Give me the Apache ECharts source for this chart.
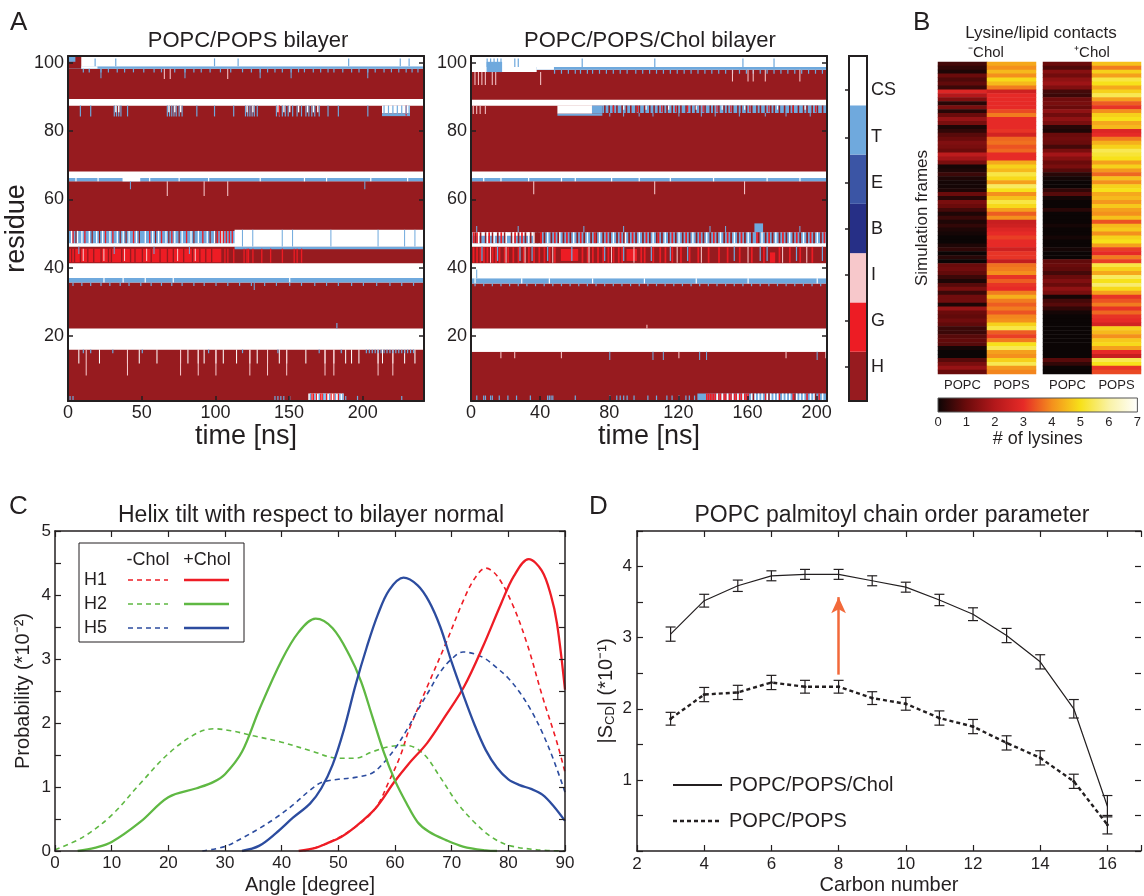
<!DOCTYPE html>
<html>
<head>
<meta charset="utf-8">
<script src="https://cdn.jsdelivr.net/npm/echarts@6/dist/echarts.min.js"></script>
<style>
html,body{margin:0;padding:0;background:#ffffff;}
#main{width:1144px;height:896px;}
</style>
</head>
<body>
<div id="main"></div>
<script>
// ================= Panel A : secondary structure vs time =================
const stateNames = ['H', 'G', 'I', 'B', 'E', 'T', 'CS'];
const stateLabelPos = [0.69, 1.62, 2.56, 3.49, 4.42, 5.35, 6.31];
const H = 0, G = 1, I = 2, BR = 3, EX = 4, T = 5, CS = 6;
const timeTicksL = [0, 50, 100, 150, 200];
const timeTicksR = [0, 40, 80, 120, 160, 200];
const residueTicks = [20, 40, 60, 80, 100];
const tMaxL = 241.5, tMaxR = 206;
const resMin = 1, resMax = 102;

// full-width bands: [res0, res1, state]
const bandsL = [[0,16.1,H],[16.1,22.2,CS],[22.2,35.7,H],[35.7,37.0,T],[37.0,41.3,CS],[41.3,46.2,H],[46.2,47.2,CS],[47.2,50.8,T],[50.8,65.3,H],[65.3,66.3,T],[66.3,68.2,CS],[68.2,87.5,H],[87.5,89.4,CS],[89.4,98.3,H],[98.3,99.0,T],[99.0,102,CS]];
// blocks: [t0, t1, res0, res1, state]
const blocksL = [[0,9,98.3,102,H],[0,5,100.3,102,T],[9,20,98.3,99.0,CS],[113,241.5,45.4,46.2,T],[113,241.5,46.2,51.1,CS],[1,104,41.6,45.6,G],[37,49,65.3,66.3,CS],[163,187,1,3.2,CS],[213,232,85.2,87.5,CS],[213,232,84.4,85.2,T]];
// flicker groups: [res0, res1, state, duration, times]
const flicksL = [
  [99.0,101.3,T,0.8,[18,32,99,115,190,225,231]],
  [97.2,98.3,T,0.8,[10,14,22,27,33,38,44,51,58,63,72,79,85,90,96,103,110,118,124,130,135,140,145,151,156,160,166,171,176,180,186,192,197,203,208,214,219,224,229,233,237]],
  [95.5,98.3,T,0.7,[22,79,130,151,203]],
  [95.3,98.3,I,0.7,[65,69,108]],
  [84.3,87.5,T,0.8,[8,15,31,32.5,34,35.5,40,67,68.5,70,71.5,73,75,77,87,99,112,120,121.5,123,124.5,126,128,141,143,145,147,149,152,155,158,161,163,165,167,170,176,183,203]],
  [85.5,87.5,CS,0.9,[32,34,68,72,76,121,125,142,146,150,156,162,166,169]],
  [84.5,87.5,G,0.8,[143,229]],
  [85.0,87.5,T,0.8,[214,217,220,223,226,229,231]],
  [65.3,66.3,CS,0.8,[5,20,55,75,95,130,160,175,205,230]],
  [61,65.3,I,0.7,[67,92,108]],
  [63,65.3,T,0.7,[42,201]],
  [47.2,50.8,CS,0.9,[2,6,9,14,19,23,28,33,37,41,46,52,57,61,66,72,77,83,88,94,99,104]],
  [47.2,50.8,G,0.9,[3,11,25,30,44,55,63,70,80,91,101,103,105,107,109,111]],
  [47.2,50.8,H,0.8,[5,16,21,35,39,48,59,68,75,85,96,100]],
  [46.2,51.1,T,0.6,[118,125,145,152,178,210,228,235]],
  [41.6,45.6,H,0.9,[2,4,8,13,17,22,27,29,36,42,45,50,56,62,67,71,78,84,89,93,97]],
  [42,45.6,I,0.7,[10,24,38,53,74,86]],
  [44,46.2,T,0.7,[7,31,58,82]],
  [41.5,45.6,G,0.9,[106,108,112,119,121,122,125,131,137,145,153,155,158]],
  [35.7,37.0,CS,0.8,[24,37,52,71,150]],
  [34.7,35.7,T,0.8,[3,9,15,22,28,35,41,49,56,63,70,77,85,92,100,108,116,124,133,141,150,158,167,175,183,192,200,209,218,226,234]],
  [33.5,35.7,T,0.7,[126]],
  [22.2,23.8,T,0.8,[182]],
  [12,16.1,CS,0.7,[7,21,40,48,60,76,81,88,92,100,105,114,123,128,135,143,148,161,174,180,188,192,197,210,213,220,228,235]],
  [8.5,16.1,I,0.7,[12,40,76,88,100,123,135,148,174,180,210,220]],
  [15,16.1,T,0.8,[10,15,30,50,95,118,142,170,185,202,204,206,208,210,212,214,216,218,220,222,224,226,228,230,232,234]],
  [1,2.5,T,0.8,[1,3,140,142,144,146,150,188,196,226]],
  [1,3.2,G,0.9,[165,166,168,171,172,175,178,180,183]],
  [1,3.2,T,0.9,[164,167,170,173,174,177,181,184,186]]
];

const bandsR = [[0,15.4,H],[15.4,22.2,CS],[22.2,35.4,H],[35.4,36.9,T],[36.9,41.3,CS],[41.3,46.2,H],[46.2,47.2,CS],[47.2,50.4,T],[50.4,65.3,H],[65.3,66.3,T],[66.3,68.2,CS],[68.2,87.5,H],[87.5,89.2,CS],[89.2,98.0,H],[98.0,98.8,T],[98.8,102,CS]];
const blocksR = [[0,38,97.3,98.8,CS],[38,48,98.0,98.8,CS],[9,18,97.3,100.3,T],[50,70,85.1,87.5,CS],[50,76,84.5,85.1,T],[70,76,85.1,87.5,T],[76,206,85.3,87.5,T],[1,36,49.4,50.4,CS],[36,41,47.2,50.4,H],[164,169,50.4,53,T],[52,62,42,45.5,G],[90,96,42,45.5,G],[173,176,41.5,44.5,G],[131,206,1,3.2,T]];
const flicksR = [
  [98.8,101.3,T,0.7,[9,11,13,15,17,25,27,64,106,157,175]],
  [96.8,98.0,T,0.7,[48,52,56,60,63,67,70,74,78,82,86,90,95,99,103,107,111,115,119,123,127,131,135,139,143,147,151,155,159,163,167,171,175,179,183,187,191,195,199,203]],
  [93.5,97.3,I,0.6,[2,4,6,8,12,14,40]],
  [94.5,98.0,I,0.6,[151,160,163,170,190]],
  [85.3,87.5,H,0.9,[77,79.5,82,84,87,89.5,92,95,97,100,103,105.5,108,111,113,116,119,121,124,127,129.5,132,135,138,140,143,146,148,151,154,156,159,162,165,167,170,173,175,178,181,184,186,189,192,194,197,200,203]],
  [85.5,87.5,G,0.7,[82,96,110,118,125,134,142,150,161,172,186,199]],
  [86.3,87.5,CS,0.7,[88,101,114,130,145,158,177,193]],
  [84.3,85.3,T,0.6,[80,88,97,105,120,133,141,155,170,182,196]],
  [85,87.5,I,0.6,[1,3,5,8]],
  [65.3,66.3,CS,0.7,[7,17,33,52,60,81,97,115,140,171,190]],
  [61.5,65.3,I,0.6,[36,106,158]],
  [47.2,50.4,H,1.0,[2,5,8,12,15,19,23,27,31,34,38,42,46,50,53,57,61,65,69,72,76,80,84,88,91,95,99,103,107,110,114,118,122,126,130,134,138,142,146,150,154,158,162,166,170,174,178,182,186,190,194,198,202]],
  [47.2,50.4,G,1.0,[1,3,10,17,25,29,40,48,55,63,71,78,86,93,101,108,116,124,132,140,148,156,165,172,180,188,196,204]],
  [47.2,50.4,CS,0.8,[4,9,13,20,24,33,36,44,51,59,67,74,82,89,97,105,112,120,128,136,144,152,160,168,176,184,192,200]],
  [50.4,52.2,T,0.6,[3,27,65,88,138,147,190]],
  [41.5,46.0,G,1.0,[1,3,5,7,9,12,14,16,19,21,24,27,30,33,36,39,42,45,48,64,67,70,73,76,79,82,85,87,98,100,105,109,112,116,121,126,131,137,143,148,155,162,169,178,184,190,197]],
  [42,46.2,T,0.7,[6,15,28,35,44,58,77,88,104,115,125,152,167,171,188,203]],
  [41.5,46.2,I,0.6,[11,20,31,47,68,81,94,119,133,160,180,194]],
  [35.4,36.9,CS,0.7,[2,29,45,70,100,130,160,200]],
  [34.6,35.4,T,0.7,[2,7,12,17,22,27,32,37,42,47,52,57,62,67,72,77,82,87,92,97,102,107,112,117,122,127,132,137,142,147,152,157,162,167,172,177,182,187,192,197,202]],
  [36.9,39.5,T,0.6,[3]],
  [13,15.4,T,0.6,[80,105,111,132,136,200]],
  [13.5,15.4,I,0.6,[17,25,52,120,182,205]],
  [22.2,23.3,I,0.6,[101.5]],
  [1,2.6,T,0.7,[3,7,8,11,12,16,21,26,34,44,45,46,47,60,80,84,86,88,90,94,102,107,113,116,120,124,126,129]],
  [1,3.2,G,0.9,[136,137,138,139,140,141,143,144,146,147,149,150,152,153,155,156,158,159,160,170,178,186,194,201]],
  [1,3.2,CS,0.9,[142,145,148,151,154,157,162,164,166,168,171,173,175,177,180,182,184,188,190,192,196,198,203]],
  [1,3.2,H,0.8,[163,172,187,199]]
];

// ================= Panel B : lysine / lipid contacts =================
const lipidCats = ['POPC', 'POPS'];
const lysNoCholPOPC = [0.6,0.4,0.2,1.0,0.7,0.9,0.5,2.8,2.0,1.3,0.3,1.2,0.3,1.0,1.6,1.2,0.2,0.4,0.8,1.0,1.3,1.2,1.0,2.2,1.8,1.2,0.1,0.2,0.5,0.2,0.1,0.1,0.2,1.0,0.3,1.2,1.0,0.6,0.2,0.5,
  0.2,0.4,0.2,0.1,0.0,0.0,0.2,0.4,0.0,0.3,0.0,1.0,1.1,0.9,0.5,0.2,0.8,1.2,0.5,1.1,1.1,0.2,1.6,1.0,0.9,1.1,0.9,0.5,0.5,0.8,0.9,0.8,0.1,0.0,0.0,0.8,1.2,1.6,1.0];
const lysNoCholPOPS = [4.3,4.0,4.5,4.0,4.9,4.5,3.8,2.5,3.0,3.0,3.0,3.0,3.3,3.8,3.0,3.0,3.0,3.1,2.6,3.6,3.7,3.4,3.6,3.0,3.0,4.3,4.8,4.5,5.3,4.9,4.2,5.5,5.0,4.0,4.6,5.3,4.9,4.2,3.5,4.0,
  2.4,2.5,2.8,3.0,3.2,3.0,3.0,2.5,3.1,3.1,2.3,3.7,3.8,4.0,3.1,3.5,3.1,3.0,3.8,4.4,3.8,3.5,3.8,3.4,3.9,4.0,4.8,5.3,3.5,3.2,3.8,5.0,5.4,4.2,4.0,4.8,5.4,4.1,3.9];
const lysCholPOPC = [1.0,0.7,1.4,1.1,1.5,1.7,1.3,0.6,0.5,1.1,1.2,1.0,1.5,1.1,1.5,1.2,0.3,0.2,1.0,1.1,1.0,0.6,1.2,1.8,1.4,1.0,1.2,0.8,0.3,0.1,0.0,0.0,0.4,0.8,0.1,0.0,0.0,0.3,0.0,0.0,
  0.0,0.1,0.0,0.0,0.1,0.0,0.0,0.1,0.0,0.0,0.9,1.0,0.9,0.6,1.0,1.3,1.0,1.5,1.2,0.1,0.6,0.8,0.4,0.1,0.0,0.0,0.0,0.0,0.0,0.0,0.0,0.0,0.0,0.0,0.0,0.8,0.4,0.0,0.0];
const lysCholPOPS = [4.6,3.8,4.8,4.2,5.3,5.0,4.3,4.8,5.4,4.2,3.5,3.1,4.0,4.8,5.0,4.3,4.5,2.8,3.0,3.8,4.4,4.8,5.4,5.2,5.0,4.2,4.8,4.1,3.6,4.6,4.0,4.8,5.0,4.3,4.5,4.1,4.7,4.2,4.0,4.6,
  3.4,4.5,4.7,4.0,4.8,5.0,4.2,3.2,3.0,3.8,3.2,5.3,4.8,4.3,5.5,5.0,5.6,4.9,4.2,3.1,3.4,3.8,3.1,3.6,3.1,3.0,2.6,4.8,4.5,4.0,4.7,4.9,4.2,3.0,2.4,5.4,5.0,3.1,3.3];
const lysMin = 0, lysMax = 7;

// ================= Panel C : helix tilt =================
const h1NoChol = [[44,0],[48,0.12],[52.6,0.35],[56.5,0.66],[59,1.1],[61,1.5],[62.5,1.9],[65.7,2.57],[69,3.25],[72,3.9],[74,4.25],[76,4.42],[78,4.3],[80.7,3.86],[83.3,3.24],[86,2.42],[88.6,1.69],[90,1.23]];
const h1Chol = [[43,0],[46,0.05],[48,0.12],[50.5,0.22],[52.6,0.35],[56.5,0.66],[59.8,1.07],[62.4,1.36],[65.7,1.69],[68.9,2.11],[72.2,2.57],[75.5,3.19],[78.7,3.86],[81,4.3],[83.6,4.56],[85.9,4.38],[87.5,4.0],[88.6,3.55],[90,2.52]];
const h2NoChol = [[0,0.02],[5,0.22],[10,0.56],[15,1.05],[20,1.52],[25,1.84],[28,1.91],[31,1.88],[35,1.8],[40,1.7],[45,1.57],[50,1.45],[53,1.45],[56,1.55],[59,1.63],[62,1.65],[65,1.52],[68,1.15],[71,0.75],[74,0.45],[77,0.22],[80,0.09],[85,0.02],[90,0]];
const h2Chol = [[4,0],[7,0.05],[10,0.14],[15,0.45],[20,0.84],[25,0.98],[28,1.08],[30,1.2],[33,1.55],[36,2.2],[40,2.98],[43,3.42],[46,3.63],[49,3.48],[52,3.05],[54,2.65],[56,2.1],[58,1.55],[60,1.1],[62,0.75],[64,0.45],[66,0.3],[69,0.17],[72,0.07],[76,0.01],[78,0]];
const h5NoChol = [[26,0],[30,0.07],[33,0.2],[36,0.35],[39,0.52],[42,0.72],[45,0.95],[47,1.07],[50,1.12],[53,1.15],[56,1.22],[58,1.38],[60,1.6],[62,1.88],[64,2.2],[66,2.5],[68,2.8],[70,3.0],[72,3.11],[74,3.08],[76,3.0],[78,2.86],[80,2.7],[82,2.48],[84,2.2],[86,1.85],[88,1.42],[90,0.92]];
const h5Chol = [[33,0],[36,0.08],[39,0.28],[42,0.52],[45,0.74],[47,0.98],[49,1.35],[51,1.9],[53,2.58],[55,3.18],[57,3.7],[59,4.08],[61.5,4.27],[64,4.15],[66,3.9],[68,3.5],[70,2.95],[72,2.45],[74,1.98],[76,1.58],[78,1.3],[80,1.12],[82,1.03],[84,0.97],[86,0.88],[88,0.7],[90,0.47]];

// ================= Panel D : order parameter =================
const carbons = [3,4,5,6,7,8,9,10,11,12,13,14,15,16];
const orderChol = [3.05,3.52,3.73,3.87,3.89,3.89,3.80,3.71,3.53,3.33,3.03,2.66,2.0,0.63];
const errChol = [0.1,0.09,0.08,0.07,0.07,0.07,0.07,0.07,0.08,0.09,0.1,0.1,0.13,0.15];
const orderNoChol = [1.86,2.2,2.23,2.37,2.31,2.31,2.15,2.07,1.87,1.75,1.52,1.31,0.98,0.37];
const errNoChol = [0.09,0.1,0.1,0.1,0.09,0.09,0.09,0.09,0.1,0.1,0.1,0.1,0.1,0.13];
const arrowCarbon = 8, arrowFrom = 2.48, arrowTo = 3.57;

// ================= styles =================
const FONT = '"Liberation Sans", Arial, Helvetica, sans-serif';
const INK = '#231f20';
const stateColors = ['#971b1f', '#ed1c24', '#f7c8cb', '#262f86', '#3b55a5', '#6fa9dd', '#ffffff'];
const hotColors = ['#0b0505', '#6a0b0b', '#b3181b', '#e62a27', '#f4901d', '#f7e11a', '#f9f2a6', '#ffffff'];
const cRed = '#ee1c25', cGreen = '#5fb843', cBlue = '#2c4c9f';

function buildCells(bands, blocks, flicks, tMax) {
  const out = [];
  bands.forEach(b => out.push([0, tMax, b[0], b[1], b[2]]));
  blocks.forEach(b => out.push(b.slice()));
  flicks.forEach(f => f[4].forEach(t => out.push([t, t + f[3], f[0], f[1], f[2]])));
  return out;
}
function renderCell(params, api) {
  const p0 = api.coord([api.value(0), api.value(3)]);
  const p1 = api.coord([api.value(1), api.value(2)]);
  const w = Math.max(1, p1[0] - p0[0]);
  const cs = params.coordSys;
  const r = echarts.graphic.clipRectByRect({x: p0[0], y: p0[1], width: w, height: p1[1] - p0[1]},
    {x: cs.x, y: cs.y, width: cs.width, height: cs.height});
  if (!r) return null;
  return {type: 'rect', shape: r, style: {fill: stateColors[api.value(4)]}};
}
function renderState(params, api) {
  const s = api.value(0);
  const p0 = api.coord([0, s + 1]), p1 = api.coord([1, s]);
  return {type: 'rect', shape: {x: p0[0], y: p0[1], width: p1[0] - p0[0], height: p1[1] - p0[1]}, style: {fill: stateColors[s]}};
}
function renderErr(params, api) {
  const x = api.value(0);
  const pl = api.coord([x, api.value(1)]), ph = api.coord([x, api.value(2)]);
  const cw = 5, st = {stroke: INK, lineWidth: 1.2};
  return {type: 'group', children: [
    {type: 'line', shape: {x1: pl[0], y1: pl[1], x2: ph[0], y2: ph[1]}, style: st},
    {type: 'line', shape: {x1: pl[0] - cw, y1: pl[1], x2: pl[0] + cw, y2: pl[1]}, style: st},
    {type: 'line', shape: {x1: ph[0] - cw, y1: ph[1], x2: ph[0] + cw, y2: ph[1]}, style: st}
  ]};
}
function renderHotBar(params, api) {
  const p0 = api.coord([api.value(0), 1]), p1 = api.coord([api.value(1), 0]);
  return {type: 'rect', shape: {x: p0[0], y: p0[1], width: p1[0] - p0[0], height: p1[1] - p0[1]},
    style: {fill: new echarts.graphic.LinearGradient(0, 0, 1, 0, hotColors.map((c, i) => ({offset: i / (hotColors.length - 1), color: c}))),
      stroke: '#555', lineWidth: 1}};
}

const cellsL = buildCells(bandsL, blocksL, flicksL, tMaxL);
const cellsR = buildCells(bandsR, blocksR, flicksR, tMaxR);
const frames = lysNoCholPOPC.map((_, i) => String(i));
const heatNo = [], heatCh = [];
frames.forEach((_, i) => {
  heatNo.push([0, i, lysNoCholPOPC[i]]); heatNo.push([1, i, lysNoCholPOPS[i]]);
  heatCh.push([0, i, lysCholPOPC[i]]); heatCh.push([1, i, lysCholPOPS[i]]);
});
const errDataChol = carbons.map((c, i) => [c, orderChol[i] - errChol[i], orderChol[i] + errChol[i]]);
const errDataNo = carbons.map((c, i) => [c, orderNoChol[i] - errNoChol[i], orderNoChol[i] + errNoChol[i]]);

const lblStyle = (size, extra) => Object.assign({fontSize: size, color: INK, fontFamily: FONT}, extra || {});
const boxLine = (w) => ({show: true, onZero: false, lineStyle: {color: INK, width: w}});

function timeAxis(grid, tMax, ticks) {
  return [
    {gridIndex: grid, type: 'value', min: 0, max: tMax, position: 'bottom', z: 10,
     axisLine: boxLine(2), splitLine: {show: false},
     axisTick: {show: true, inside: true, length: 5, customValues: ticks.slice(1), lineStyle: {color: INK, width: 1.5}},
     axisLabel: Object.assign(lblStyle(18), {margin: 3, customValues: ticks}),
     name: 'time [ns]', nameLocation: 'middle', nameGap: 22, nameTextStyle: lblStyle(27)},
    {gridIndex: grid, type: 'value', min: 0, max: tMax, position: 'top', z: 10,
     axisLine: boxLine(2), axisTick: {show: false}, axisLabel: {show: false}, splitLine: {show: false}}
  ];
}
function resAxis(grid, withName) {
  const a = [
    {gridIndex: grid, type: 'value', min: resMin, max: resMax, position: 'left', z: 10,
     axisLine: boxLine(2), splitLine: {show: false},
     axisTick: {show: true, inside: true, length: 5, customValues: residueTicks, lineStyle: {color: INK, width: 1.5}},
     axisLabel: Object.assign(lblStyle(18), {margin: 4, customValues: residueTicks})},
    {gridIndex: grid, type: 'value', min: resMin, max: resMax, position: 'right', z: 10,
     axisLine: boxLine(2), splitLine: {show: false}, axisLabel: {show: false},
     axisTick: {show: true, inside: true, length: 5, customValues: residueTicks, lineStyle: {color: INK, width: 1.5}}}
  ];
  if (withName) Object.assign(a[0], {name: 'residue', nameLocation: 'middle', nameGap: 25, nameTextStyle: lblStyle(27)});
  return a;
}
const intOnly = (v) => (Math.abs(v - Math.round(v)) < 1e-6 ? String(Math.round(v)) : '');
const stateLabel = (v) => {
  let best = 0;
  stateLabelPos.forEach((p, i) => { if (Math.abs(p - v) < Math.abs(stateLabelPos[best] - v)) best = i; });
  return stateNames[best];
};

const xAxes = [
  ...timeAxis(0, tMaxL, timeTicksL),
  ...timeAxis(1, tMaxR, timeTicksR),
  {gridIndex: 2, type: 'value', min: 0, max: 1, show: false},
  {gridIndex: 3, type: 'category', data: lipidCats, axisLine: {show: false}, axisTick: {show: false},
   axisLabel: Object.assign(lblStyle(13), {margin: 5})},
  {gridIndex: 4, type: 'category', data: lipidCats, axisLine: {show: false}, axisTick: {show: false},
   axisLabel: Object.assign(lblStyle(13), {margin: 5})},
  {gridIndex: 5, type: 'value', min: lysMin, max: lysMax, interval: 1, axisLine: {show: false}, axisTick: {show: false},
   splitLine: {show: false}, axisLabel: Object.assign(lblStyle(13), {margin: 4}),
   name: '# of lysines', nameLocation: 'middle', nameGap: 15, nameTextStyle: lblStyle(18)},
  {gridIndex: 6, type: 'value', min: 0, max: 90, interval: 10, position: 'bottom', z: 10, axisLine: boxLine(1.5),
   splitLine: {show: false}, axisTick: {inside: true, length: 6, lineStyle: {color: INK, width: 1.2}},
   axisLabel: Object.assign(lblStyle(17), {margin: 4}),
   name: 'Angle [degree]', nameLocation: 'middle', nameGap: 24, nameTextStyle: lblStyle(20)},
  {gridIndex: 6, type: 'value', min: 0, max: 90, interval: 10, position: 'top', z: 10, axisLine: boxLine(1.5),
   splitLine: {show: false}, axisTick: {inside: true, length: 6, lineStyle: {color: INK, width: 1.2}}, axisLabel: {show: false}},
  {gridIndex: 7, type: 'value', min: 2, max: 17, interval: 2, position: 'bottom', z: 10, axisLine: boxLine(1.5),
   splitLine: {show: false}, axisTick: {inside: true, length: 6, lineStyle: {color: INK, width: 1.2}},
   axisLabel: Object.assign(lblStyle(17), {margin: 5, formatter: (v) => (v <= 16 ? String(v) : '')}),
   name: 'Carbon number', nameLocation: 'middle', nameGap: 24, nameTextStyle: lblStyle(20)},
  {gridIndex: 7, type: 'value', min: 2, max: 17, interval: 2, position: 'top', z: 10, axisLine: boxLine(1.5),
   splitLine: {show: false}, axisTick: {inside: true, length: 6, lineStyle: {color: INK, width: 1.2}}, axisLabel: {show: false}}
];
const yAxes = [
  ...resAxis(0, true),
  ...resAxis(1, false),
  {gridIndex: 2, type: 'value', min: 0, max: stateNames.length, position: 'right', z: 12,
   axisLine: {show: false}, splitLine: {show: false},
   axisTick: {show: true, inside: true, length: 4, customValues: stateLabelPos, lineStyle: {color: INK, width: 1.5}},
   axisLabel: Object.assign(lblStyle(18), {margin: 4, customValues: stateLabelPos, formatter: stateLabel})},
  {gridIndex: 3, type: 'category', data: frames, inverse: true, axisLine: {show: false}, axisTick: {show: false}, axisLabel: {show: false},
   name: 'Simulation frames', nameLocation: 'middle', nameGap: 7, nameTextStyle: lblStyle(17)},
  {gridIndex: 4, type: 'category', data: frames, inverse: true, axisLine: {show: false}, axisTick: {show: false}, axisLabel: {show: false}},
  {gridIndex: 5, type: 'value', min: 0, max: 1, show: false},
  {gridIndex: 6, type: 'value', min: 0, max: 5, interval: 0.5, position: 'left', z: 10, axisLine: boxLine(1.5),
   splitLine: {show: false}, axisTick: {inside: true, length: 6, lineStyle: {color: INK, width: 1.2}},
   axisLabel: Object.assign(lblStyle(17), {margin: 4, formatter: intOnly}),
   name: 'Probability (*10⁻²)', nameLocation: 'middle', nameGap: 22, nameTextStyle: lblStyle(20)},
  {gridIndex: 6, type: 'value', min: 0, max: 5, interval: 0.5, position: 'right', z: 10, axisLine: boxLine(1.5),
   splitLine: {show: false}, axisTick: {inside: true, length: 6, lineStyle: {color: INK, width: 1.2}}, axisLabel: {show: false}},
  {gridIndex: 7, type: 'value', min: 0, max: 4.5, interval: 0.5, position: 'left', z: 10, axisLine: boxLine(1.5),
   splitLine: {show: false}, axisTick: {inside: true, length: 6, lineStyle: {color: INK, width: 1.2}},
   axisLabel: Object.assign(lblStyle(17), {margin: 5, formatter: (v) => (v > 0 ? intOnly(v) : '')}),
   name: '|S{sub|CD}| (*10⁻¹)', nameLocation: 'middle', nameGap: 20,
   nameTextStyle: Object.assign(lblStyle(20), {rich: {sub: {fontSize: 13, fontFamily: FONT, color: INK, verticalAlign: 'bottom', padding: [9, 0, 0, 0]}}})},
  {gridIndex: 7, type: 'value', min: 0, max: 4.5, interval: 0.5, position: 'right', z: 10, axisLine: {show: false},
   splitLine: {show: false}, axisTick: {show: true, inside: true, length: 6, lineStyle: {color: INK, width: 1.2}}, axisLabel: {show: false}}
];

const lineC = (name, data, color, dashed) => ({
  name, type: 'line', xAxisIndex: 8, yAxisIndex: 8, data, smooth: 0.35, showSymbol: false, silent: true,
  lineStyle: {color, width: dashed ? 1.6 : 2.3, type: dashed ? [5, 4] : 'solid'}, z: dashed ? 3 : 4
});

const series = [
  {type: 'custom', name: 'POPC/POPS', xAxisIndex: 0, yAxisIndex: 0, data: cellsL, renderItem: renderCell, clip: true, silent: true, encode: {x: [0, 1], y: [2, 3]}},
  {type: 'custom', name: 'POPC/POPS/Chol', xAxisIndex: 2, yAxisIndex: 2, data: cellsR, renderItem: renderCell, clip: true, silent: true, encode: {x: [0, 1], y: [2, 3]}},
  {type: 'custom', xAxisIndex: 4, yAxisIndex: 4, silent: true, renderItem: renderState, data: stateNames.map((n, i) => [i])},
  {type: 'heatmap', xAxisIndex: 5, yAxisIndex: 5, data: heatNo, silent: true, itemStyle: {borderWidth: 0}},
  {type: 'heatmap', xAxisIndex: 6, yAxisIndex: 6, data: heatCh, silent: true, itemStyle: {borderWidth: 0}},
  {type: 'custom', xAxisIndex: 7, yAxisIndex: 7, data: [[lysMin, lysMax]], renderItem: renderHotBar, silent: true},
  lineC('H1 -Chol', h1NoChol, cRed, true),
  lineC('H1 +Chol', h1Chol, cRed, false),
  lineC('H2 -Chol', h2NoChol, cGreen, true),
  lineC('H2 +Chol', h2Chol, cGreen, false),
  lineC('H5 -Chol', h5NoChol, cBlue, true),
  lineC('H5 +Chol', h5Chol, cBlue, false),
  {name: 'POPC/POPS/Chol', type: 'line', xAxisIndex: 10, yAxisIndex: 10, silent: true, showSymbol: false,
   data: carbons.map((c, i) => [c, orderChol[i]]), lineStyle: {color: INK, width: 1.2},
   markLine: {silent: true, symbol: ['none', 'arrow'], symbolSize: [11, 16], label: {show: false},
     lineStyle: {color: '#f2693a', width: 2.5, type: 'solid'},
     data: [[{coord: [arrowCarbon, arrowFrom]}, {coord: [arrowCarbon, arrowTo]}]]}},
  {name: 'POPC/POPS', type: 'line', xAxisIndex: 10, yAxisIndex: 10, silent: true, symbol: 'circle', symbolSize: 3,
   itemStyle: {color: INK}, data: carbons.map((c, i) => [c, orderNoChol[i]]), lineStyle: {color: INK, width: 2.4, type: [4, 3]}},
  {type: 'custom', xAxisIndex: 10, yAxisIndex: 10, data: errDataChol, renderItem: renderErr, silent: true, z: 5},
  {type: 'custom', xAxisIndex: 10, yAxisIndex: 10, data: errDataNo, renderItem: renderErr, silent: true, z: 5}
];

const txt = (x, y, text, size, align, extra) => ({type: 'text', x, y, z: 100, silent: true,
  style: Object.assign({text, fontSize: size, fontFamily: FONT, fill: INK, align: align || 'center', verticalAlign: 'middle'}, extra || {})});
const seg = (x1, y1, x2, y2, color, w, dash) => ({type: 'line', z: 100, silent: true,
  shape: {x1, y1, x2, y2}, style: {stroke: color, lineWidth: w, lineDash: dash || null}});

const legendRowsC = [['H1', cRed, 580], ['H2', cGreen, 604], ['H5', cBlue, 628]];
const graphics = [
  txt(10, 23, 'A', 26, 'left'), txt(913, 23, 'B', 26, 'left'), txt(9, 507, 'C', 26, 'left'), txt(589, 507, 'D', 26, 'left'),
  txt(248, 41, 'POPC/POPS bilayer', 22), txt(650, 41, 'POPC/POPS/Chol bilayer', 22),
  txt(1041, 33, 'Lysine/lipid contacts', 17), txt(986, 53, '⁻Chol', 15), txt(1092, 53, '⁺Chol', 15),
  txt(311, 516, 'Helix tilt with respect to bilayer normal', 23), txt(892, 516, 'POPC palmitoyl chain order parameter', 23),
  {type: 'rect', z: 100, silent: true, shape: {x: 79, y: 543, width: 165, height: 99}, style: {fill: 'rgba(0,0,0,0)', stroke: INK, lineWidth: 1}},
  txt(148, 560, '-Chol', 18), txt(207, 560, '+Chol', 18),
  ...legendRowsC.flatMap(r => [txt(84, r[2], r[0], 18, 'left'), seg(128, r[2], 168, r[2], r[1], 1.6, [5, 4]), seg(184, r[2], 229, r[2], r[1], 2.3)]),
  seg(673, 785, 722, 785, INK, 2), seg(673, 821, 722, 821, INK, 2.5, [4, 3]),
  txt(729, 785, 'POPC/POPS/Chol', 20, 'left'), txt(729, 821, 'POPC/POPS', 20, 'left')
];

const option = {
  animation: false,
  backgroundColor: '#ffffff',
  textStyle: {fontFamily: FONT},
  grid: [
    {left: 68, top: 56, width: 356, height: 345},
    {left: 471, top: 56, width: 356, height: 345},
    {left: 849, top: 56, width: 18, height: 345, show: true, borderColor: INK, borderWidth: 2, backgroundColor: 'rgba(0,0,0,0)', z: 10},
    {left: 938, top: 62, width: 98, height: 312},
    {left: 1043, top: 62, width: 98, height: 312},
    {left: 938, top: 398, width: 203, height: 14},
    {left: 55, top: 531, width: 510, height: 321},
    {left: 637, top: 531, width: 511, height: 321}
  ],
  xAxis: xAxes,
  yAxis: yAxes,
  visualMap: [{type: 'continuous', show: false, min: lysMin, max: lysMax, seriesIndex: [3, 4], dimension: 2, inRange: {color: hotColors}}],
  series,
  graphic: graphics
};

const chart = echarts.init(document.getElementById('main'), null, {renderer: 'canvas'});
chart.setOption(option);
</script>
</body>
</html>
